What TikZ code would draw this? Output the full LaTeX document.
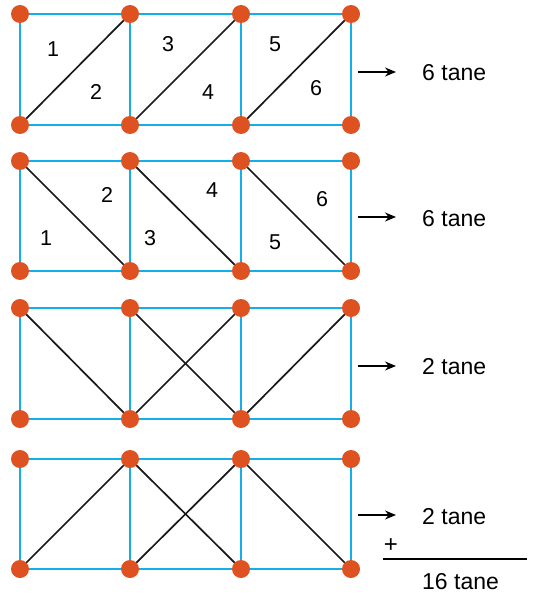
\documentclass[tikz,border=0pt]{standalone}
\usepackage{fontspec}
\setmainfont{Liberation Sans}
\usetikzlibrary{arrows.meta}
\definecolor{gridblue}{HTML}{14AFE8}
\definecolor{dotorange}{HTML}{DD5220}
\begin{document}
\begin{tikzpicture}[x=1pt,y=-1pt,
  dot/.style={circle,fill=dotorange,inner sep=0pt,minimum size=18pt},
  edge/.style={draw=gridblue,line width=2.6pt},
  diag/.style={draw=black!90,line width=1.7pt},
  lbl/.style={font=\fontsize{21.5}{21.5}\selectfont,inner sep=0pt},
  count/.style={font=\fontsize{23}{23}\selectfont,anchor=west,inner sep=0pt},
  pointer/.style={draw=black,line width=1.5pt,-{Stealth[length=11pt,width=9pt]}}]
\useasboundingbox (0,0) rectangle (536,596);

% vertex coordinates: v<panel><column><row>, row t = top, b = bottom
\foreach \p/\top/\bot in {1/14/125, 2/161/271, 3/308/419, 4/459/569}{
  \foreach \c/\x in {1/20, 2/130, 3/241, 4/351}{
    \coordinate (v\p\c t) at (\x,\top);
    \coordinate (v\p\c b) at (\x,\bot);
  }
}

% blue grid of each panel
\foreach \p in {1,2,3,4}{
  \draw[edge] (v\p1t) -- (v\p4t);
  \draw[edge] (v\p1b) -- (v\p4b);
  \foreach \c in {1,2,3,4}{
    \draw[edge] (v\p\c t) -- (v\p\c b);
  }
}

% panel 1: rising diagonals
\foreach \c/\d in {1/2, 2/3, 3/4}{
  \draw[diag] (v1\c b) -- (v1\d t);
}
% panel 2: falling diagonals
\foreach \c/\d in {1/2, 2/3, 3/4}{
  \draw[diag] (v2\c t) -- (v2\d b);
}
% panel 3
\draw[diag] (v31t) -- (v32b);
\draw[diag] (v32t) -- (v33b);
\draw[diag] (v32b) -- (v33t);
\draw[diag] (v33b) -- (v34t);
% panel 4
\draw[diag] (v41b) -- (v42t);
\draw[diag] (v42b) -- (v43t);
\draw[diag] (v42t) -- (v43b);
\draw[diag] (v43t) -- (v44b);

% vertices on top
\foreach \p in {1,2,3,4}{
  \foreach \c in {1,2,3,4}{
    \node[dot] (n\p\c t) at (v\p\c t) {};
    \node[dot] (n\p\c b) at (v\p\c b) {};
  }
}

% triangle numbers
\node[lbl] (a1) at (53,49) {1};
\node[lbl] (a2) at (96,92) {2};
\node[lbl] (a3) at (168,44) {3};
\node[lbl] (a4) at (208,92) {4};
\node[lbl] (a5) at (275,44) {5};
\node[lbl] (a6) at (316,88) {6};

\node[lbl] (b1) at (46,238) {1};
\node[lbl] (b2) at (107,195) {2};
\node[lbl] (b3) at (150,238) {3};
\node[lbl] (b4) at (212,190) {4};
\node[lbl] (b5) at (275,242) {5};
\node[lbl] (b6) at (322,199) {6};

% counts
\coordinate (s1) at (358,72);  \coordinate (e1) at (396,72);
\coordinate (s2) at (358,217); \coordinate (e2) at (396,217);
\coordinate (s3) at (358,366); \coordinate (e3) at (396,366);
\coordinate (s4) at (358,515); \coordinate (e4) at (396,515);
\foreach \i in {1,2,3,4}{ \draw[pointer] (s\i) -- (e\i); }

\node[count] (c1) at (422,73) {6 tane};
\node[count] (c2) at (422,219) {6 tane};
\node[count] (c3) at (422,367) {2 tane};
\node[count] (c4) at (422,517) {2 tane};

\node[font=\fontsize{24}{24}\selectfont,inner sep=0pt] (plus) at (391,546) {+};
\coordinate (r1) at (383,559);
\coordinate (r2) at (527,559);
\draw[line width=1.6pt] (r1) -- (r2);
\node[count] (tot) at (422,582) {16 tane};
\end{tikzpicture}
\end{document}
